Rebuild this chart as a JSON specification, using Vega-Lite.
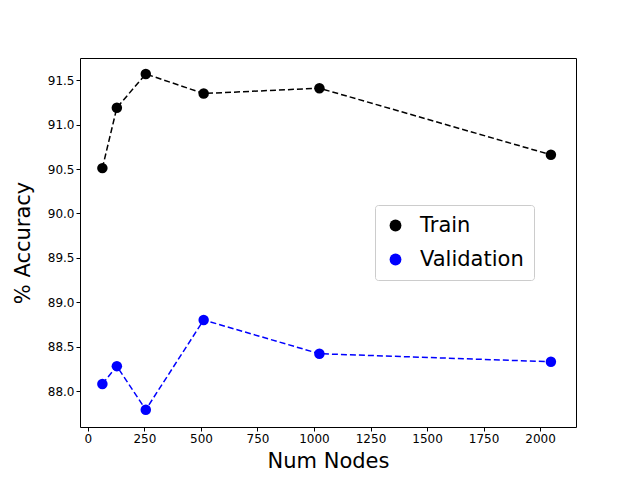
{
  "$schema": "https://vega.github.io/schema/vega-lite/v6.json",
  "width": 496,
  "height": 369,
  "autosize": {"type": "none"},
  "padding": {"left": 80, "top": 58, "right": 64, "bottom": 53},
  "background": "white",
  "config": {
    "view": {"stroke": "black", "strokeWidth": 1},
    "font": "DejaVu Sans",
    "axis": {"grid": false, "domain": false, "tickColor": "black", "tickSize": 4, "labelColor": "black", "labelFontSize": 12, "titleFontSize": 21, "titleFontWeight": "normal", "titleColor": "black", "labelFont": "DejaVu Sans", "titleFont": "DejaVu Sans"}
  },
  "data": {"values": [
    {"nodes": 64, "acc": 90.51, "set": "Train"},
    {"nodes": 128, "acc": 91.19, "set": "Train"},
    {"nodes": 256, "acc": 91.57, "set": "Train"},
    {"nodes": 512, "acc": 91.35, "set": "Train"},
    {"nodes": 1024, "acc": 91.41, "set": "Train"},
    {"nodes": 2048, "acc": 90.66, "set": "Train"},
    {"nodes": 64, "acc": 88.08, "set": "Validation"},
    {"nodes": 128, "acc": 88.28, "set": "Validation"},
    {"nodes": 256, "acc": 87.79, "set": "Validation"},
    {"nodes": 512, "acc": 88.80, "set": "Validation"},
    {"nodes": 1024, "acc": 88.42, "set": "Validation"},
    {"nodes": 2048, "acc": 88.33, "set": "Validation"}
  ]},
  "encoding": {
    "x": {"field": "nodes", "type": "quantitative", "title": "Num Nodes",
      "scale": {"domain": [-35, 2159], "nice": false, "zero": false},
      "axis": {"values": [0, 250, 500, 750, 1000, 1250, 1500, 1750, 2000], "format": "d", "titlePadding": 6}},
    "y": {"field": "acc", "type": "quantitative", "title": "% Accuracy",
      "scale": {"domain": [87.595, 91.75], "nice": false, "zero": false},
      "axis": {"values": [88.0, 88.5, 89.0, 89.5, 90.0, 90.5, 91.0, 91.5], "format": ".1f", "titlePadding": 14}},
    "color": {"field": "set", "type": "nominal",
      "scale": {"domain": ["Train", "Validation"], "range": ["black", "blue"]},
      "legend": {"title": null, "orient": "none", "legendX": 295, "legendY": 147, "labelFontSize": 21, "symbolSize": 140, "symbolType": "circle", "padding": 10, "strokeColor": "#cccccc", "fillColor": "white", "cornerRadius": 3, "rowPadding": 12, "labelOffset": 14, "labelFont": "DejaVu Sans", "symbolStrokeWidth": 0}}
  },
  "layer": [
    {"mark": {"type": "line", "strokeDash": [6, 3], "strokeWidth": 1.5}},
    {"mark": {"type": "point", "filled": true, "size": 110, "opacity": 1}}
  ]
}
